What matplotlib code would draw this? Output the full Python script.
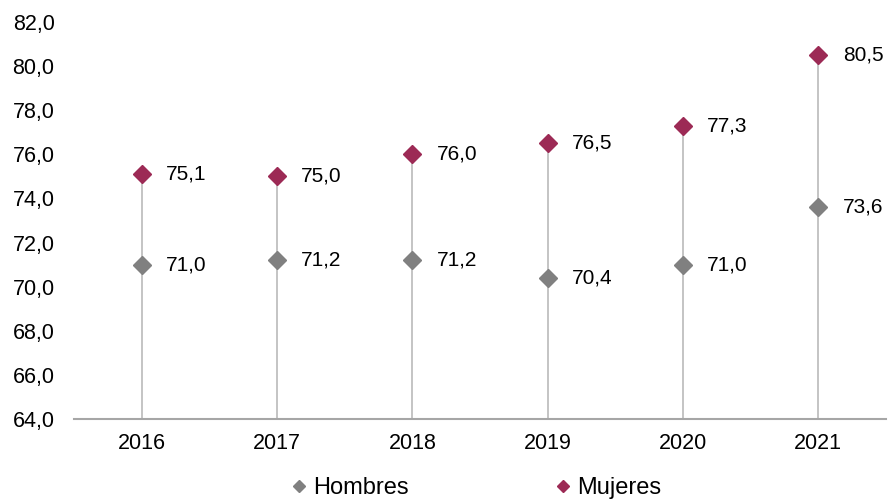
import matplotlib
matplotlib.use("Agg")
import matplotlib.pyplot as plt
from matplotlib.lines import Line2D

years = ["2016", "2017", "2018", "2019", "2020", "2021"]
hombres = [71.0, 71.2, 71.2, 70.4, 71.0, 73.6]
mujeres = [75.1, 75.0, 76.0, 76.5, 77.3, 80.5]
yticks = [64, 66, 68, 70, 72, 74, 76, 78, 80, 82]

c_h = "#808080"
c_m = "#9C2A55"

plt.rcParams['font.family'] = ['Liberation Sans', 'DejaVu Sans']

fig = plt.figure(figsize=(8.89, 4.99), dpi=100)
ax = fig.add_axes([74/889, 1-419/499, (886-74)/889, (419-22)/499])
x = list(range(len(years)))

ax.vlines(x, 64, mujeres, colors="#BFBFBF", linewidth=1.3, zorder=1)
ax.plot(x, hombres, linestyle="none", marker="D", markersize=9.5, color=c_h, zorder=3)
ax.plot(x, mujeres, linestyle="none", marker="D", markersize=9.5, color=c_m, zorder=3)

def fmt(v):
    return f"{v:.1f}".replace(".", ",")

for xi, v in zip(x, hombres):
    ax.annotate(fmt(v), (xi, v), xytext=(17.5, 0), textcoords="offset points",
                va="center", ha="left", fontsize=15, color="#000000")
for xi, v in zip(x, mujeres):
    ax.annotate(fmt(v), (xi, v), xytext=(17.5, 0), textcoords="offset points",
                va="center", ha="left", fontsize=15, color="#000000")

ax.set_xlim(-0.5, 5.5)
ax.set_ylim(64, 82)
ax.set_xticks(x)
ax.set_xticklabels(years)
ax.set_yticks(yticks)
ax.set_yticklabels([fmt(t) for t in yticks])
ax.tick_params(axis="both", length=0, labelsize=15.5, colors="#000000")
ax.tick_params(axis="x", pad=10)
ax.tick_params(axis="y", pad=14)
for s in ["top", "right", "left"]:
    ax.spines[s].set_visible(False)
ax.spines["bottom"].set_color("#A6A6A6")
ax.spines["bottom"].set_linewidth(1.5)

handles = [Line2D([], [], linestyle="none", marker="D", markersize=6.5, color=c_h),
           Line2D([], [], linestyle="none", marker="D", markersize=6.5, color=c_m)]
fig.legend(handles, ["Hombres", "Mujeres"], loc="center", bbox_to_anchor=(474/889, 1-488/499),
           ncol=2, frameon=False, fontsize=17, columnspacing=6.05, handletextpad=0.1,
           handlelength=1.0)

fig.savefig("out.png", dpi=100)
